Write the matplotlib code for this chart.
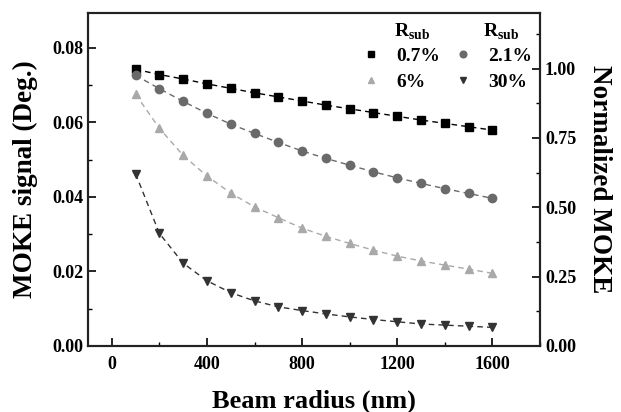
import matplotlib
matplotlib.use("Agg")
import matplotlib.pyplot as plt
from matplotlib.ticker import MultipleLocator

plt.rcParams['font.family'] = ['Liberation Serif', 'DejaVu Serif']
plt.rcParams['font.weight'] = 'bold'
plt.rcParams['mathtext.fontset'] = 'custom'
plt.rcParams['mathtext.rm'] = 'Liberation Serif:bold'
plt.rcParams['mathtext.bf'] = 'Liberation Serif:bold'

# beam radius (nm)
radius = [100, 200, 300, 400, 500, 600, 700, 800, 900, 1000, 1100, 1200, 1300, 1400, 1500, 1600]

# MOKE signal (deg.) for each substrate reflectivity
moke_07 = [0.0742, 0.0728, 0.0716, 0.0703, 0.0691, 0.0679, 0.0668, 0.0657,
           0.0646, 0.0636, 0.0626, 0.0616, 0.0606, 0.0597, 0.0588, 0.0579]
moke_21 = [0.0726, 0.0690, 0.0656, 0.0624, 0.0595, 0.0570, 0.0546, 0.0523,
           0.0503, 0.0485, 0.0467, 0.0451, 0.0436, 0.0422, 0.0409, 0.0396]
moke_6 = [0.0675, 0.0584, 0.0511, 0.0456, 0.0410, 0.0373, 0.0344, 0.0316,
          0.0294, 0.0275, 0.0257, 0.0241, 0.0228, 0.0217, 0.0206, 0.0195]
moke_30 = [0.0462, 0.0302, 0.0222, 0.0175, 0.0143, 0.0121, 0.0105, 0.0095,
           0.0086, 0.0078, 0.0071, 0.0065, 0.0059, 0.0056, 0.0053, 0.0050]

labels = ["0.7%", "2.1%", "6%", "30%"]
series = [moke_07, moke_21, moke_6, moke_30]
markers = ["s", "o", "^", "v"]
colors = ["#000000", "#6a6a6a", "#a9a9a9", "#333333"]

norm_ref = 0.0744  # MOKE value mapped to 1.00 on the right axis

fig = plt.figure(figsize=(6.21, 4.12), dpi=100)
ax = fig.add_axes([0.1417, 0.1602, 0.7279, 0.8082])

handles = []
for y, m, c, lab in zip(series, markers, colors, labels):
    ax.plot(radius, y, linestyle=(0, (4, 3)), color=c, lw=1.0)
    h, = ax.plot(radius, y, linestyle='none', marker=m, color=c, ms=6, label=lab)
    handles.append(h)

ax.set_xlim(-100, 1800)
ax.set_ylim(0, 0.0893)
ax.xaxis.set_major_locator(MultipleLocator(400))
ax.xaxis.set_minor_locator(MultipleLocator(200))
ax.yaxis.set_major_locator(MultipleLocator(0.02))
ax.yaxis.set_minor_locator(MultipleLocator(0.01))
ax.yaxis.set_major_formatter(plt.FuncFormatter(lambda v, p: f"{v:.2f}"))
ax.tick_params(which='both', direction='in', labelsize=13, top=False, right=False)
ax.tick_params(which='major', length=6, width=1.2)
ax.tick_params(which='minor', length=3, width=1.0)
ax.tick_params(axis='x', pad=7)
for sp in ax.spines.values():
    sp.set_linewidth(1.5)
    sp.set_color("#222222")

ax.set_xlabel("Beam radius (nm)", fontsize=19, fontweight='bold', labelpad=12)
ax.set_ylabel("MOKE signal (Deg.)", fontsize=19.5, fontweight='bold', labelpad=10)

ax2 = ax.twinx()
ax2.set_ylim(0, 0.0893 / norm_ref)
ax2.yaxis.set_major_locator(MultipleLocator(0.25))
ax2.yaxis.set_minor_locator(MultipleLocator(0.125))
ax2.yaxis.set_major_formatter(plt.FuncFormatter(lambda v, p: f"{v:.2f}"))
ax2.tick_params(which='both', direction='in', labelsize=13)
ax2.tick_params(which='major', length=6, width=1.2)
ax2.tick_params(which='minor', length=3, width=1.0)
ax2.set_ylabel("Normalized MOKE", fontsize=19.5, fontweight='bold', rotation=270, labelpad=26)
for sp in ax2.spines.values():
    sp.set_linewidth(1.5)
    sp.set_color("#222222")

# legend fills column-wise, so order as 0.7%, 6%, 2.1%, 30%
leg_handles = [handles[0], handles[2], handles[1], handles[3]]
leg = ax.legend(handles=leg_handles, ncol=2, loc='upper right',
                bbox_to_anchor=(1.022, 0.95), frameon=False, fontsize=14,
                handlelength=1.0, handletextpad=0.8, columnspacing=0.7,
                labelspacing=0.45, markerscale=0.8)
fig.text(0.663, 0.912, r"R$_{\mathrm{sub}}$", fontsize=14, fontweight='bold', ha='center')
fig.text(0.807, 0.912, r"R$_{\mathrm{sub}}$", fontsize=14, fontweight='bold', ha='center')

fig.savefig("out.png", dpi=100)
